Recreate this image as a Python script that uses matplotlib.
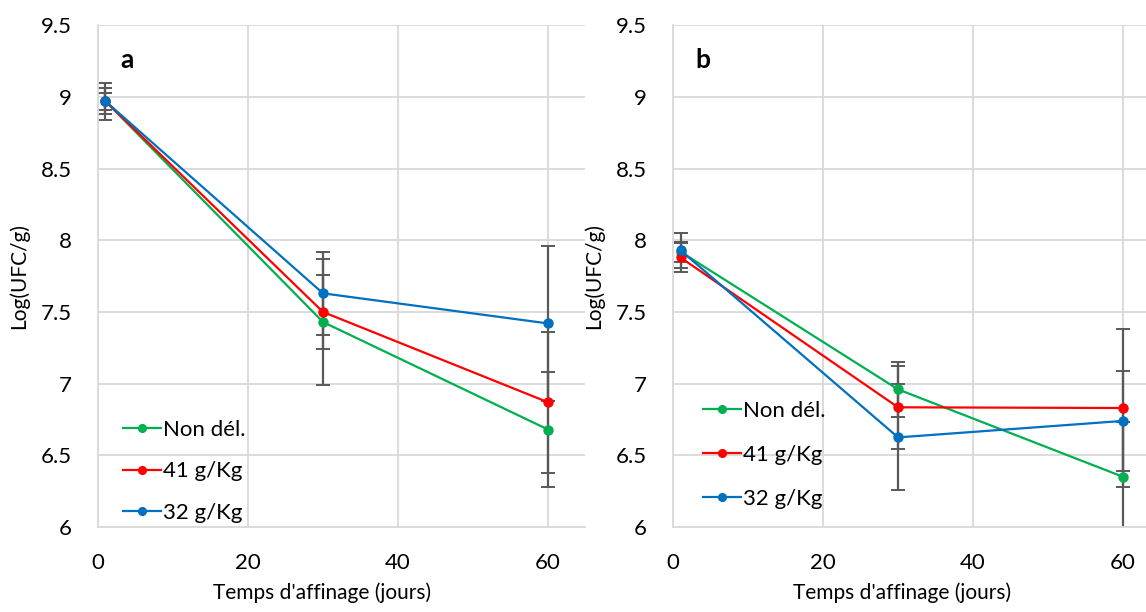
import numpy as np
import matplotlib
matplotlib.use("Agg")
import matplotlib.pyplot as plt

plt.rcParams['font.family'] = ['Lato', 'DejaVu Sans']

# data
days = [1, 30, 60]
series_names = ["Non dél.", "41 g/Kg", "32 g/Kg"]
colors = ["#00B050", "#FF0000", "#0070C0"]

# panel a
a_non = [8.97, 7.43, 6.68]
a_41 = [8.97, 7.50, 6.87]
a_32 = [8.97, 7.63, 7.42]
a_non_err = [0.06, 0.44, 0.40]
a_41_err = [0.09, 0.26, 0.49]
a_32_err = [0.13, 0.29, 0.54]

# panel b
b_non = [7.92, 6.96, 6.35]
b_41 = [7.88, 6.835, 6.83]
b_32 = [7.93, 6.625, 6.74]
b_non_err = [0.07, 0.19, 0.38]
b_41_err = [0.10, 0.29, 0.55]
b_32_err = [0.12, 0.37, 0.35]

yticks = [6, 6.5, 7, 7.5, 8, 8.5, 9, 9.5]
ytick_labels = ["6", "6.5", "7", "7.5", "8", "8.5", "9", "9.5"]
xticks = [0, 20, 40, 60]

grid_col = "#D9D9D9"
err_col = "#595959"

fig = plt.figure(figsize=(11.46, 6.12), dpi=100)
ax_a = fig.add_axes([0.0855, 0.1389, 0.4254, 0.8198])
ax_b = fig.add_axes([0.5873, 0.1389, 0.4254, 0.8198])

# (axes, letter, values, errors, legend anchor, legend spacing, xlabel x)
panels = [
    (ax_a, "a", [a_non, a_41, a_32], [a_non_err, a_41_err, a_32_err], (0.033, -0.01), 0.98, 0.46),
    (ax_b, "b", [b_non, b_41, b_32], [b_non_err, b_41_err, b_32_err], (0.043, 0.018), 1.08, 0.47),
]

for ax, letter, vals, errs, leg_pos, leg_sp, xl in panels:
    for v, e in zip(vals, errs):
        ax.errorbar(days, v, yerr=e, fmt='none', ecolor=err_col, elinewidth=1.6,
                    capsize=5, capthick=1.4, zorder=2)
    for v, name, c in zip(vals, series_names, colors):
        ax.plot(days, v, color=c, lw=1.6, marker='o', ms=6.5, label=name, zorder=3)

    ax.set_xlim(0, 65)
    ax.set_ylim(6, 9.5)
    ax.set_xticks(xticks)
    ax.set_yticks(yticks)
    ax.set_yticklabels(ytick_labels)
    ax.grid(True, color=grid_col, lw=1.3, zorder=0)
    ax.set_axisbelow(True)
    for s in ["top", "right"]:
        ax.spines[s].set_visible(False)
    for s in ["left", "bottom"]:
        ax.spines[s].set_color(grid_col)
        ax.spines[s].set_linewidth(1.3)
    ax.tick_params(length=0, labelsize=16, pad=19, labelcolor="#000000")
    ax.set_xlabel("Temps d'affinage (jours)", fontsize=15)
    ax.xaxis.set_label_coords(xl, -0.11)
    ax.set_ylabel("Log(UFC/g)", fontsize=15, labelpad=8)
    ax.text(0.045, 0.93, letter, transform=ax.transAxes, fontsize=19,
            fontweight='bold', va='center', ha='left')
    ax.legend(loc='lower left', bbox_to_anchor=leg_pos, frameon=False,
              fontsize=16, handlelength=1.7, handletextpad=0.1, markerscale=0.85,
              labelspacing=leg_sp, borderaxespad=0)

fig.savefig("out.png", dpi=100)
